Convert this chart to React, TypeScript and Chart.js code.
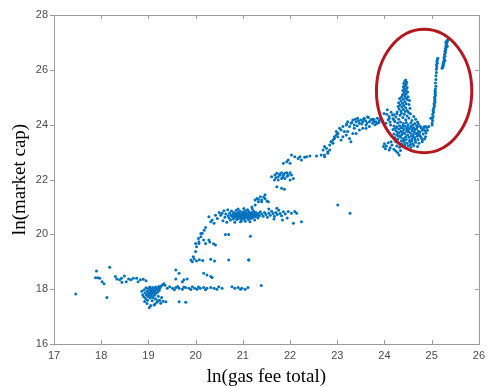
import React, { useEffect, useRef } from "react";
import { Chart, registerables } from "chart.js";

Chart.register(...registerables);

type Pt = [number, number];

// Axis ranges and tick steps
const X_MIN = 17;
const X_MAX = 26;
const X_STEP = 1;
const Y_MIN = 16;
const Y_MAX = 28;
const Y_STEP = 2;

const X_TITLE = "ln(gas fee total)";
const Y_TITLE = "ln(market cap)";

// Highlight ellipse (data units)
const RING_CENTER: Pt = [24.84, 25.23];
const RING_RADII: Pt = [1.01, 2.25];

// Early period, low fees
const lowBandPoints: Pt[] = [
  [17.46, 17.82], [17.9, 18.66], [18.18, 18.8], [17.88, 18.42], [17.93, 18.42], [17.97, 18.4],
  [18.02, 18.27], [18.06, 18.2], [18.12, 17.7], [18.3, 18.46], [18.33, 18.37], [18.39, 18.34],
  [18.43, 18.4], [18.49, 18.48], [18.44, 18.25], [18.53, 18.27], [18.58, 18.37], [18.63, 18.34],
  [18.68, 18.4], [18.75, 18.4], [18.78, 18.27], [18.83, 18.34], [18.89, 18.36], [18.95, 18.31],
];

const cluster19Points: Pt[] = [
  [18.86, 17.92], [18.88, 17.8], [18.9, 17.72], [18.91, 17.98], [18.93, 17.86], [18.94, 17.66],
  [18.95, 18.05], [18.96, 17.78], [18.97, 17.93], [18.98, 17.6], [18.99, 17.84], [19.0, 18.02],
  [19.0, 17.72], [19.01, 17.9], [19.02, 17.33], [19.02, 17.8], [19.03, 18.08], [19.04, 17.96],
  [19.04, 17.68], [19.05, 17.86], [19.06, 17.76], [19.06, 18.0], [19.07, 17.92], [19.08, 17.58],
  [19.08, 17.82], [19.09, 18.06], [19.1, 17.95], [19.1, 17.7], [19.11, 17.88], [19.12, 17.42],
  [19.12, 18.02], [19.13, 17.78], [19.14, 17.93], [19.15, 17.64], [19.15, 18.08], [19.16, 17.85],
  [19.17, 17.98], [19.18, 17.52], [19.19, 18.03], [19.2, 17.9], [19.21, 17.74], [19.22, 18.1],
  [19.23, 17.96], [19.24, 17.6], [19.25, 18.05], [19.26, 17.49], [19.27, 18.12], [19.28, 17.7],
  [19.3, 18.16], [19.31, 17.56], [19.33, 18.2], [19.35, 18.14], [19.37, 17.54], [18.92, 17.55],
  [18.97, 17.48], [19.05, 17.4], [19.14, 17.46], [19.2, 17.58],
];

const band18Points: Pt[] = [
  [19.4, 18.03], [19.45, 18.09], [19.51, 18.03], [19.58, 18.06], [19.65, 18.03], [19.72, 18.0],
  [19.79, 18.06], [19.86, 18.03], [19.93, 18.09], [19.98, 18.03], [20.03, 18.0], [20.1, 18.03],
  [20.17, 18.06], [20.24, 18.03], [20.32, 18.06], [20.39, 18.03], [20.49, 18.09], [20.56, 18.03],
  [20.77, 18.09], [20.83, 18.03], [20.9, 18.06], [20.98, 18.03], [21.05, 18.0], [21.11, 18.06],
  [21.39, 18.13], [19.55, 17.98], [19.62, 18.1], [19.75, 18.08], [19.9, 17.99], [20.06, 18.08],
  [20.21, 17.98], [20.45, 18.0], [20.95, 18.0], [19.65, 17.54], [19.79, 17.52],
  [19.9, 19.06], [19.97, 19.1], [20.02, 19.03], [20.08, 19.07], [20.15, 19.05], [20.32, 19.09],
  [20.4, 19.03], [20.7, 19.06], [21.13, 19.06],
  [19.58, 18.7], [19.65, 18.58], [20.17, 18.58], [20.32, 18.46], [19.58, 18.37], [19.75, 18.34],
  [19.82, 18.37], [19.72, 18.27], [20.24, 18.52], [20.35, 18.43],
];

const rise20Points: Pt[] = [
  [19.93, 19.0], [19.95, 19.18], [20.0, 19.37], [20.02, 19.55], [20.07, 19.67], [20.06, 19.85],
  [20.11, 20.03], [20.18, 20.15], [20.21, 20.25], [20.38, 19.66], [20.42, 19.61], [20.28, 19.79],
  [20.14, 20.04], [20.11, 19.91], [20.17, 19.79], [20.07, 19.73], [20.21, 19.67], [20.3, 19.72],
  [20.0, 19.67], [20.63, 19.99], [20.7, 19.99], [21.16, 19.93], [21.12, 19.06],
];

const cluster21Points: Pt[] = [
  [20.28, 20.64], [20.32, 20.46], [20.35, 20.52], [20.39, 20.4], [20.42, 20.7], [20.46, 20.58],
  [20.5, 20.8], [20.53, 20.7], [20.56, 20.77], [20.58, 20.5], [20.6, 20.86], [20.62, 20.62],
  [20.64, 20.74], [20.66, 20.44], [20.68, 20.9], [20.69, 20.68],
  [20.71, 20.6], [20.72, 20.78], [20.74, 20.52], [20.75, 20.7], [20.76, 20.85], [20.78, 20.64],
  [20.79, 20.74], [20.8, 20.56], [20.81, 20.8], [20.82, 20.68], [20.84, 20.62], [20.85, 20.76],
  [20.86, 20.88], [20.87, 20.54], [20.88, 20.7], [20.89, 20.64], [20.9, 20.8], [20.91, 20.58],
  [20.92, 20.74], [20.93, 20.68], [20.94, 20.84], [20.95, 20.62], [20.96, 20.72], [20.97, 20.5],
  [20.98, 20.78], [20.99, 20.66], [21.0, 20.6], [21.0, 20.74], [21.01, 20.82], [21.02, 20.68],
  [21.03, 20.56], [21.04, 20.76], [21.05, 20.64], [21.06, 20.86], [21.07, 20.7], [21.08, 20.6],
  [21.09, 20.78], [21.1, 20.66], [21.11, 20.72], [21.12, 20.54], [21.13, 20.82], [21.14, 20.68],
  [21.15, 20.62], [21.16, 20.76], [21.17, 20.7], [21.18, 20.58], [21.19, 20.8], [21.2, 20.66],
  [21.21, 20.74], [21.22, 20.62], [21.23, 20.84], [21.24, 20.7], [21.26, 20.76], [21.27, 20.64],
  [21.28, 20.8], [21.3, 20.7], [21.32, 20.6], [21.33, 20.76], [21.35, 20.68], [21.37, 20.82],
  [20.83, 20.44], [20.95, 20.46], [21.05, 20.48], [21.15, 20.46], [21.25, 20.52], [20.9, 20.92],
  [21.02, 20.94], [21.1, 20.9], [21.2, 20.92],
  [20.86, 20.67], [20.93, 20.61], [20.99, 20.71], [21.04, 20.66], [21.08, 20.73], [21.13, 20.63],
  [21.18, 20.72], [20.97, 20.57], [21.06, 20.79], [20.91, 20.77], [21.21, 20.68], [21.01, 20.63],
  [21.4, 20.74], [21.43, 20.66], [21.46, 20.8], [21.49, 20.72], [21.52, 20.62], [21.55, 20.78],
  [21.58, 20.7], [21.61, 20.84], [21.64, 20.76], [21.67, 20.66], [21.7, 20.8], [21.73, 20.72],
  [21.76, 20.88], [21.79, 20.76], [21.82, 20.68], [21.86, 20.82], [21.9, 20.74], [21.94, 20.6],
  [21.96, 20.83], [22.03, 20.77], [22.1, 20.83], [22.14, 20.77], [22.24, 20.46], [22.07, 20.4],
  [21.84, 20.52], [21.66, 20.56], [21.55, 20.92], [21.72, 20.95],
  [21.19, 21.0], [21.26, 21.07], [21.33, 21.28], [21.4, 21.19], [21.47, 21.44], [21.54, 21.19],
];

const ridge22Points: Pt[] = [
  [21.26, 21.25], [21.3, 21.31], [21.37, 21.37], [21.44, 21.36], [21.47, 21.31], [21.51, 21.22],
  [21.33, 21.19], [21.4, 21.25],
  [21.61, 22.1], [21.68, 22.16], [21.72, 22.23], [21.75, 22.1], [21.79, 22.16], [21.82, 22.25],
  [21.86, 22.16], [21.89, 22.23], [21.93, 22.25], [21.96, 22.16], [22.0, 22.25], [22.03, 22.16],
  [21.67, 21.98], [21.75, 21.98], [21.82, 22.04], [21.89, 22.04], [22.0, 21.98], [22.07, 22.04],
  [21.72, 21.74], [21.82, 21.68], [21.88, 21.64], [21.7, 22.06], [21.78, 22.2], [21.85, 22.1],
  [21.94, 22.12],
  [21.86, 22.59], [21.93, 22.65], [21.96, 22.71], [22.0, 22.59], [22.03, 22.89], [22.1, 22.83],
  [22.17, 22.77], [22.21, 22.83], [22.24, 22.71], [22.31, 22.81], [22.35, 22.83], [22.42, 22.86],
  [22.56, 22.86], [22.66, 22.89], [22.73, 22.83], [22.8, 23.01], [22.77, 23.14], [22.84, 23.26],
  [22.87, 23.38], [22.91, 23.44], [22.94, 23.5], [22.98, 23.62], [23.01, 23.68],
  [23.01, 21.07], [23.27, 20.77],
];

const band24Points: Pt[] = [
  [22.7, 23.08], [22.73, 23.2], [22.84, 23.08], [22.87, 23.38], [22.94, 23.56], [22.98, 23.75],
  [23.01, 23.68], [23.05, 23.87], [23.08, 23.81], [23.12, 23.93], [23.15, 23.75], [23.19, 23.99],
  [23.22, 24.11], [23.26, 23.93], [23.29, 24.05], [23.33, 24.17], [23.36, 23.99], [23.4, 24.11],
  [23.43, 24.23], [23.47, 24.05], [23.5, 24.17], [23.54, 24.11], [23.57, 24.23], [23.61, 23.99],
  [23.64, 24.29], [23.68, 24.11], [23.71, 24.17], [23.75, 24.05], [23.78, 24.19], [23.82, 24.11],
  [23.85, 24.23], [23.89, 24.15], [23.12, 23.56], [23.19, 23.62], [23.26, 23.5], [23.33, 23.68],
  [23.08, 23.44], [23.29, 23.38], [23.4, 23.68], [23.47, 23.81], [23.54, 23.87], [23.61, 23.87],
  [23.68, 23.93], [23.36, 23.87], [23.22, 23.75], [23.01, 23.56], [22.91, 23.32], [22.8, 22.96],
  [22.73, 22.89], [23.2, 24.02], [23.38, 24.2], [23.45, 24.14], [23.52, 24.02], [23.6, 24.14],
  [23.66, 24.26], [23.74, 24.2], [23.8, 24.0], [23.88, 24.08], [23.92, 24.24], [23.96, 24.12],
  [23.99, 24.41], [24.06, 24.54], [24.1, 24.23], [24.17, 24.35], [24.2, 24.17], [24.03, 24.05],
  [24.13, 23.99], [23.31, 24.08], [23.42, 23.96], [23.56, 24.2], [23.63, 24.06], [23.77, 24.12],
  [23.84, 24.04], [23.94, 24.18],
];

// Late period: spike and dense block
const spikePoints: Pt[] = [
  [24.45, 25.63], [24.43, 25.58], [24.47, 25.55], [24.41, 25.5], [24.46, 25.47], [24.44, 25.42],
  [24.4, 25.38], [24.48, 25.36], [24.42, 25.32], [24.46, 25.28], [24.39, 25.25], [24.44, 25.22],
  [24.49, 25.19], [24.41, 25.15], [24.46, 25.12], [24.38, 25.08], [24.43, 25.05], [24.5, 25.02],
  [24.36, 25.0], [24.45, 24.98],
  [24.32, 24.95], [24.4, 24.93], [24.48, 24.92], [24.53, 24.88], [24.35, 24.86], [24.43, 24.84],
  [24.3, 24.8], [24.38, 24.78], [24.46, 24.76], [24.52, 24.74], [24.33, 24.72], [24.41, 24.7],
  [24.29, 24.66], [24.37, 24.64], [24.45, 24.62], [24.54, 24.6], [24.31, 24.57], [24.4, 24.55],
  [24.48, 24.52], [24.35, 24.5], [24.44, 24.48], [24.27, 24.46], [24.51, 24.44],
  [24.05, 24.38], [24.1, 24.3], [24.14, 24.45], [24.18, 24.22], [24.2, 24.36], [24.24, 24.28],
  [24.26, 24.4], [24.3, 24.2], [24.33, 24.34], [24.36, 24.42], [24.39, 24.26], [24.42, 24.38],
  [24.45, 24.18], [24.48, 24.32], [24.52, 24.24], [24.55, 24.4], [24.58, 24.15], [24.62, 24.3],
  [24.66, 24.2], [24.7, 24.1], [24.08, 24.18], [24.12, 24.1], [24.22, 24.12], [24.28, 24.06],
  [24.34, 24.1], [24.4, 24.04], [24.46, 24.08], [24.5, 24.0], [24.56, 24.06], [24.6, 23.98],
  [24.64, 24.04], [24.68, 23.96], [24.72, 24.02], [24.76, 23.94],
];

const blockPoints: Pt[] = [
  [24.2, 23.95], [24.26, 23.92], [24.32, 23.96], [24.38, 23.9], [24.44, 23.94], [24.5, 23.9],
  [24.56, 23.93], [24.62, 23.88], [24.7, 23.92], [24.78, 23.88], [24.84, 23.92], [24.9, 23.9],
  [24.18, 23.82], [24.24, 23.78], [24.3, 23.84], [24.35, 23.76], [24.41, 23.82], [24.47, 23.76],
  [24.53, 23.84], [24.59, 23.78], [24.65, 23.82], [24.72, 23.76], [24.8, 23.8], [24.86, 23.78],
  [24.2, 23.66], [24.26, 23.62], [24.31, 23.7], [24.37, 23.64], [24.43, 23.68], [24.49, 23.62],
  [24.55, 23.7], [24.61, 23.64], [24.67, 23.68], [24.74, 23.62], [24.82, 23.66], [24.88, 23.7],
  [24.22, 23.52], [24.28, 23.48], [24.34, 23.54], [24.4, 23.5], [24.46, 23.46], [24.52, 23.54],
  [24.58, 23.48], [24.64, 23.52], [24.71, 23.46], [24.78, 23.52], [24.85, 23.48],
  [24.24, 23.38], [24.3, 23.34], [24.36, 23.3], [24.42, 23.36], [24.48, 23.32], [24.54, 23.38],
  [24.6, 23.3], [24.66, 23.36], [24.73, 23.32], [24.8, 23.38],
  [24.26, 23.22], [24.32, 23.18], [24.38, 23.24], [24.44, 23.16], [24.5, 23.22], [24.56, 23.18],
  [24.62, 23.24], [24.7, 23.2],
  [24.0, 23.3], [24.04, 23.22], [24.08, 23.34], [24.12, 23.16], [24.16, 23.26], [24.2, 23.1],
  [24.24, 23.04], [24.28, 22.98], [24.31, 22.89], [24.34, 23.06], [24.1, 23.08], [23.98, 23.2],
  [24.02, 23.12], [24.14, 23.38],
  [24.33, 23.58], [24.39, 23.72], [24.45, 23.56], [24.51, 23.74], [24.57, 23.6], [24.63, 23.74],
  [24.69, 23.58], [24.35, 23.88], [24.47, 23.86], [24.59, 23.86], [24.41, 23.42], [24.53, 23.42],
  [24.65, 23.44], [24.29, 23.6], [24.75, 23.72], [24.87, 23.56], [24.91, 23.8],
  [24.23, 23.87], [24.28, 23.71], [24.36, 23.41], [24.43, 23.27], [24.49, 23.8], [24.55, 23.28],
  [24.61, 23.56], [24.68, 23.85], [24.76, 23.58], [24.83, 23.86], [24.27, 23.44], [24.39, 23.97],
  [24.58, 23.4], [24.7, 23.68], [24.8, 23.45],
  [24.87, 23.93], [24.94, 23.93], [24.98, 24.23], [25.01, 23.99],
];

const risingLinePoints: Pt[] = [
  [25.01, 24.06], [25.02, 24.15], [25.01, 24.23], [25.03, 24.3], [25.02, 24.38], [25.04, 24.45],
  [25.03, 24.52], [25.04, 24.58], [25.05, 24.64], [25.06, 24.7], [25.05, 24.76], [25.07, 24.82],
  [25.06, 24.88], [25.07, 24.94], [25.06, 25.0], [25.08, 25.06], [25.07, 25.12], [25.08, 25.18],
  [25.07, 25.24], [25.08, 25.3], [25.09, 25.4], [25.08, 25.52], [25.09, 25.65], [25.09, 25.78],
  [25.1, 25.9], [25.1, 26.02], [25.11, 26.1], [25.1, 26.18], [25.12, 26.24], [25.11, 26.3],
  [25.12, 26.36], [25.13, 26.42],
];

const topPoints: Pt[] = [
  [25.22, 26.06], [25.23, 26.14], [25.24, 26.1], [25.24, 26.22], [25.25, 26.18], [25.25, 26.3],
  [25.26, 26.26], [25.27, 26.38], [25.26, 26.44], [25.28, 26.5], [25.27, 26.56], [25.29, 26.62],
  [25.28, 26.68], [25.3, 26.72], [25.29, 26.78], [25.31, 26.82], [25.3, 26.88], [25.32, 26.92],
  [25.31, 26.98], [25.33, 27.02], [25.32, 27.06], [25.34, 27.09], [25.3, 27.0], [25.33, 26.86],
  [25.28, 26.34],
];

const allPoints: Pt[] = [
  ...lowBandPoints,
  ...cluster19Points,
  ...band18Points,
  ...rise20Points,
  ...cluster21Points,
  ...ridge22Points,
  ...band24Points,
  ...spikePoints,
  ...blockPoints,
  ...risingLinePoints,
  ...topPoints,
];

const DOT_COLOR = "rgb(0,114,189)";
const FRAME_COLOR = "#9a9a9a";
const TICK_TEXT = "#4a4a4a";

// Box outline with MATLAB-style tick marks
const framePlugin = {
  id: "frame",
  afterDatasetsDraw(chart: any) {
    const { ctx, chartArea: a, scales } = chart;
    const xs = scales.x;
    const ys = scales.y;
    ctx.save();
    ctx.strokeStyle = FRAME_COLOR;
    ctx.lineWidth = 1;
    ctx.strokeRect(Math.round(a.left) + 0.5, Math.round(a.top) + 0.5, Math.round(a.right - a.left), Math.round(a.bottom - a.top));
    ctx.beginPath();
    const len = 4;
    xs.ticks.forEach((t: any) => {
      const px = Math.round(xs.getPixelForValue(t.value)) + 0.5;
      ctx.moveTo(px, a.bottom);
      ctx.lineTo(px, a.bottom - len);
      ctx.moveTo(px, a.top);
      ctx.lineTo(px, a.top + len);
    });
    ys.ticks.forEach((t: any) => {
      const py = Math.round(ys.getPixelForValue(t.value)) + 0.5;
      ctx.moveTo(a.left, py);
      ctx.lineTo(a.left - len, py);
      ctx.moveTo(a.right, py);
      ctx.lineTo(a.right - len, py);
    });
    ctx.stroke();
    ctx.restore();
  },
};

// Red ring around the late-period points
const ringPlugin = {
  id: "ring",
  afterDatasetsDraw(chart: any) {
    const { ctx, scales } = chart;
    const cx = scales.x.getPixelForValue(RING_CENTER[0]);
    const cy = scales.y.getPixelForValue(RING_CENTER[1]);
    const rx = Math.abs(scales.x.getPixelForValue(RING_CENTER[0] + RING_RADII[0]) - cx);
    const ry = Math.abs(scales.y.getPixelForValue(RING_CENTER[1] + RING_RADII[1]) - cy);
    ctx.save();
    ctx.strokeStyle = "rgb(178,24,30)";
    ctx.lineWidth = 3;
    ctx.beginPath();
    ctx.ellipse(cx, cy, rx, ry, 0, 0, Math.PI * 2);
    ctx.stroke();
    ctx.restore();
  },
};

export default function App() {
  const canvasRef = useRef<HTMLCanvasElement | null>(null);

  useEffect(() => {
    if (!canvasRef.current) return;
    const chart = new Chart(canvasRef.current, {
      type: "scatter",
      data: {
        datasets: [
          {
            data: allPoints.map(([x, y]) => ({ x, y })),
            backgroundColor: DOT_COLOR,
            borderWidth: 0,
            pointRadius: 1.5,
            pointHoverRadius: 1.5,
          },
        ],
      },
      options: {
        responsive: false,
        animation: false,
        events: [],
        layout: { padding: { left: 0, right: 8, top: 15, bottom: 0 } },
        plugins: {
          legend: { display: false },
          tooltip: { enabled: false },
        },
        scales: {
          x: {
            type: "linear",
            min: X_MIN,
            max: X_MAX,
            afterFit(scale: any) {
              scale.height = 43;
            },
            grid: { display: false, drawTicks: false },
            border: { display: false },
            ticks: {
              stepSize: X_STEP,
              padding: 5,
              color: TICK_TEXT,
              maxRotation: 0,
              autoSkip: false,
              font: { family: "'Liberation Sans', Arial, sans-serif", size: 11 },
            },
            title: {
              display: true,
              text: X_TITLE,
              color: "#000",
              padding: { top: 0, bottom: 0 },
              font: { family: "'Liberation Serif', 'Times New Roman', serif", size: 19, lineHeight: 1.1 },
            },
          },
          y: {
            type: "linear",
            min: Y_MIN,
            max: Y_MAX,
            afterFit(scale: any) {
              scale.width = 54;
            },
            grid: { display: false, drawTicks: false },
            border: { display: false },
            ticks: {
              stepSize: Y_STEP,
              padding: 6,
              color: TICK_TEXT,
              font: { family: "'Liberation Sans', Arial, sans-serif", size: 11 },
            },
            title: {
              display: true,
              text: Y_TITLE,
              color: "#000",
              padding: { top: 10, bottom: 0 },
              font: { family: "'Liberation Serif', 'Times New Roman', serif", size: 19, lineHeight: 1.1 },
            },
          },
        },
      },
      plugins: [framePlugin, ringPlugin],
    });
    return () => chart.destroy();
  }, []);

  return (
    <div style={{ position: "absolute", left: 0, top: 0, width: 490, height: 387, background: "#fff" }}>
      <canvas ref={canvasRef} width={490} height={387} style={{ display: "block" }} />
    </div>
  );
}
